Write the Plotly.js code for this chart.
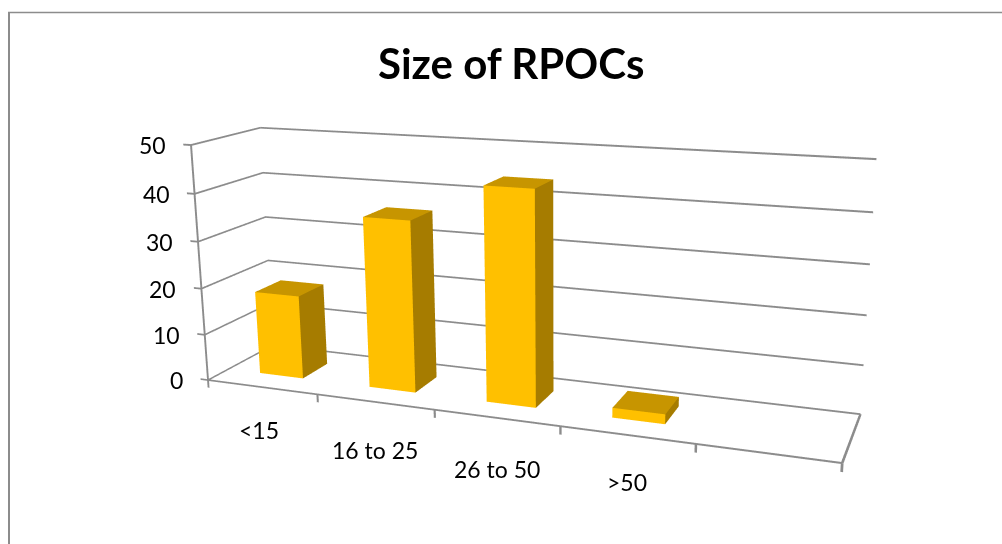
<!DOCTYPE html>
<html>
<head>
<meta charset="utf-8">
<script src="https://cdn.plot.ly/plotly-3.0.1.min.js"></script>
<style>
html,body{margin:0;padding:0;width:1002px;height:544px;overflow:hidden;background:#fff}
#stage{position:absolute;left:0;top:0;width:1002px;height:544px;overflow:hidden}
#chart{position:absolute;left:-28px;top:-260px;width:1100px;height:1082px}
</style>
</head>
<body>
<div id="stage"><div id="chart"></div></div>
<script>
// Size of RPOCs: 3D column chart
const categories = ['<15', '16 to 25', '26 to 50', '>50'];
const counts = [18, 36, 44, 2];
const valueTicks = [0, 10, 20, 30, 40, 50];
const categorySlots = [0, 1, 2, 3, 4, 5];

const PAGE_W = 1100, PAGE_H = 1082, LEFT = 28, TOP = 260;
const px = x => (x + LEFT) / PAGE_W;
const py = y => 1 - (y + TOP) / PAGE_H;

const barHalf = 0.2, depthLo = 0.3, depthHi = 0.7;
const slotMax = 5, valueMax = 50;
const xTickLen = 0.07, zTickLen = 1.7;
const lineHalfX = 0.009, lineHalfZ = 0.19;

// Generic quad collector for a mesh3d trace
function meshBuilder() {
  const m = {x: [], y: [], z: [], i: [], j: [], k: [], colors: []};
  m.quad = (a, b, c, d, color) => {
    const n = m.x.length;
    [a, b, c, d].forEach(p => { m.x.push(p[0]); m.y.push(p[1]); m.z.push(p[2]); });
    m.i.push(n, n); m.j.push(n + 1, n + 2); m.k.push(n + 2, n + 3);
    m.colors.push(color, color);
  };
  return m;
}
const flatLight = {ambient: 1, diffuse: 0, specular: 0, roughness: 1, fresnel: 0};

const FRONT = '#ffc000', SIDE = '#a67c00', TOPC = '#c79500', LINE = '#8c8c8c';

// Columns: front, right side and top faces
const columns = meshBuilder();
counts.forEach((v, i) => {
  const x0 = i + 0.5 - barHalf, x1 = i + 0.5 + barHalf;
  columns.quad([x0, depthLo, 0], [x1, depthLo, 0], [x1, depthLo, v], [x0, depthLo, v], FRONT);
  columns.quad([x1, depthLo, 0], [x1, depthHi, 0], [x1, depthHi, v], [x1, depthLo, v], SIDE);
  columns.quad([x0, depthLo, v], [x1, depthLo, v], [x1, depthHi, v], [x0, depthHi, v], TOPC);
});

// Gridlines, floor outline and tick marks as thin ribbons, widened along x or z
const rules = meshBuilder();
function rule(p, q, along) {
  const o = along === 'x' ? [lineHalfX, 0, 0] : [0, 0, lineHalfZ];
  const sh = (r, s) => [r[0] + s * o[0], r[1] + s * o[1], r[2] + s * o[2]];
  rules.quad(sh(p, -1), sh(q, -1), sh(q, 1), sh(p, 1), LINE);
}
valueTicks.forEach(v => {
  rule([0, 0, v], [0, 1, v], 'z');
  rule([0, 1, v], [slotMax, 1, v], 'z');
  rule([-xTickLen, 0, v], [0, 0, v], 'z');
});
rule([0, 0, 0], [0, 0, valueMax], 'x');
rule([0, 0, 0], [slotMax, 0, 0], 'z');
rule([slotMax, 0, 0], [slotMax, 1, 0], 'x');
categorySlots.forEach(s => rule([s, 0, -zTickLen], [s, 0, 0], 'x'));

const traces = [columns, rules].map(m => ({
  type: 'mesh3d', x: m.x, y: m.y, z: m.z, i: m.i, j: m.j, k: m.k, facecolor: m.colors,
  flatshading: true, hoverinfo: 'skip', showscale: false, lighting: flatLight
}));

const labelFont = {family: 'Lato, sans-serif', size: 23, color: '#000'};
const categoryDrop = [-43, -48, -51, -47];
const categoryNudge = [-3, 0, 1, 0];
const annotations = [];
valueTicks.forEach(v => annotations.push({
  x: 0, y: 0, z: v, text: String(v), showarrow: false, xanchor: 'right', xshift: -23, font: labelFont
}));
categories.forEach((c, i) => annotations.push({
  x: i + 0.5, y: 0, z: 0, text: c.replace('<', '&lt;').replace('>', '&gt;'),
  showarrow: false, yshift: categoryDrop[i], xshift: categoryNudge[i], font: labelFont
}));

// Axis ranges carry a small margin so ribbons at the box edge are not clipped;
// the camera is shifted by the same amount so the box stays in place.
const zScale = 0.3801, yScale = 0.1969;
const xLo = -0.1, xHi = slotMax + 0.03, zLo = -2.2, zHi = valueMax + 0.4;
const dx = (slotMax / 2 - (xLo + xHi) / 2) / slotMax;
const dz = zScale * (valueMax / 2 - (zLo + zHi) / 2) / valueMax;

const layout = {
  width: PAGE_W, height: PAGE_H, margin: {l: 0, r: 0, t: 0, b: 0},
  paper_bgcolor: '#fff', showlegend: false, hovermode: false,
  annotations: [{
    xref: 'paper', yref: 'paper', x: px(511), y: py(63), yanchor: 'middle', text: '<b>Size of RPOCs</b>',
    showarrow: false, font: {family: 'Lato, sans-serif', size: 42, color: '#000'}
  }],
  shapes: [
    {type: 'line', xref: 'paper', yref: 'paper', x0: px(9), x1: px(9), y0: py(12), y1: py(544), line: {color: LINE, width: 2}},
    {type: 'line', xref: 'paper', yref: 'paper', x0: px(8), x1: px(1002), y0: py(12.5), y1: py(12.5), line: {color: LINE, width: 1.5}}
  ],
  scene: {
    domain: {x: [0, 1], y: [0, 1]},
    aspectmode: 'manual',
    aspectratio: {x: (xHi - xLo) / slotMax, y: yScale, z: zScale * (zHi - zLo) / valueMax},
    camera: {
      projection: {type: 'perspective'},
      eye: {x: 0.6878 + dx, y: -1.7726, z: 0.4955 + dz},
      center: {x: 0.0040 + dx, y: 0, z: -0.0057 + dz},
      up: {x: -0.085, y: 0.241, z: 0.9669}
    },
    xaxis: {visible: false, range: [xLo, xHi]},
    yaxis: {visible: false, range: [0, 1]},
    zaxis: {visible: false, range: [zLo, zHi]},
    annotations: annotations
  }
};

Plotly.newPlot('chart', traces, layout, {displayModeBar: false});
</script>
</body>
</html>
